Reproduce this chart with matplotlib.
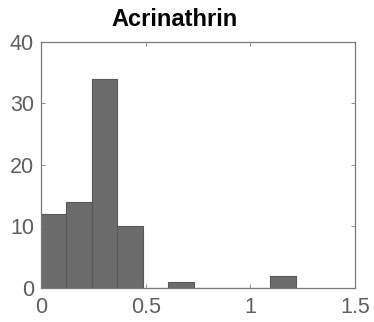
import numpy as np
import matplotlib
matplotlib.use('Agg')
import matplotlib.pyplot as plt

plt.rcParams['font.family'] = ['Liberation Sans', 'DejaVu Sans']

# histogram bins and counts
bin_width = 0.1217
bin_edges = np.arange(11) * bin_width
counts = [12, 14, 34, 10, 0, 1, 0, 0, 0, 2]

x_ticks = [0, 0.5, 1, 1.5]
x_ticklabels = ['0', '0.5', '1', '1.5']
y_ticks = [0, 10, 20, 30, 40]

fig = plt.figure(figsize=(3.74, 3.22), dpi=100)
ax = fig.add_axes([0.1096, 0.1056, 0.8396, 0.7649])

ax.bar(bin_edges[:-1], counts, width=bin_width, align='edge',
       color='#6c6c6c', edgecolor='#585858', linewidth=0.8)

ax.set_xlim(0, 1.5)
ax.set_ylim(0, 40)
ax.set_xticks(x_ticks)
ax.set_xticklabels(x_ticklabels)
ax.set_yticks(y_ticks)

axis_col = '#7a7a7a'
for s in ax.spines.values():
    s.set_color(axis_col)
    s.set_linewidth(0.9)
ax.tick_params(direction='in', length=3, width=0.6, color=axis_col,
               labelsize=15.5, labelcolor='#5e5e5e', top=True, right=True)
ax.tick_params(axis='y', pad=5)
ax.tick_params(axis='x', pad=6.5)

# title sits a bit left of the axes centre
ax.set_title('Acrinathrin', fontsize=17, fontweight='bold', color='black',
             pad=11, x=0.424)

fig.savefig('out.png', dpi=100)
